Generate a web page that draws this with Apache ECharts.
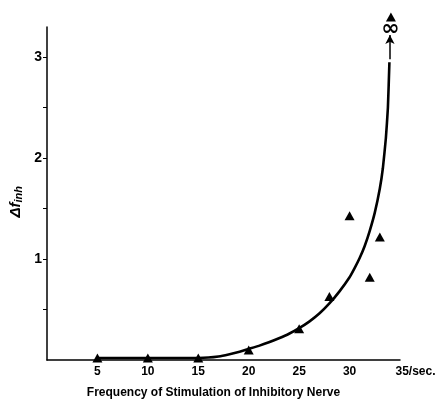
<!DOCTYPE html>
<html>
<head>
<meta charset="utf-8">
<script src="https://cdn.jsdelivr.net/npm/echarts@6/dist/echarts.min.js"></script>
<style>
html,body{margin:0;padding:0;background:#fff;}
#chart{width:443px;height:404px;}
</style>
</head>
<body>
<div id="chart"></div>
<script>
// Measured responses (triangles): stimulation frequency vs. Δf_inh
const freq = [5, 10, 15, 20, 25, 28, 30, 32, 33, 34.1];
const deltaF = [0.02, 0.02, 0.02, 0.10, 0.31, 0.63, 1.43, 0.82, 1.22, 3.40];

// Hand-fitted curve through the measurements
const curveX = [5, 14, 16, 17, 18, 19, 20, 21, 22, 23, 24, 25, 26, 27, 28, 29, 30, 30.5, 31, 31.5, 32, 32.5, 33, 33.3, 33.6, 33.8, 33.95];
const curveY = [0.02, 0.02, 0.025, 0.035, 0.055, 0.08, 0.11, 0.14, 0.175, 0.215, 0.26, 0.315, 0.38, 0.46, 0.56, 0.68, 0.82, 0.91, 1.01, 1.13, 1.28, 1.46, 1.7, 1.9, 2.2, 2.5, 2.95];

// Axis ticks
const xTicks = [5, 10, 15, 20, 25, 30, 35];
const yTicks = [0.5, 1, 1.5, 2, 2.5, 3];
const yLabels = [1, 2, 3];

const chart = echarts.init(document.getElementById('chart'));
const font = 'Liberation Sans';

chart.setOption({
  animation: false,
  grid: {left: 47, right: 43, top: 27, bottom: 43},
  xAxis: {
    type: 'value', min: 0, max: 35, interval: 5,
    axisLine: {lineStyle: {color: '#000', width: 1.5}},
    axisTick: {show: false},
    splitLine: {show: false},
    axisLabel: {
      color: '#000', fontFamily: font, fontWeight: 'bold', fontSize: 12, margin: 6,
      customValues: xTicks,
      formatter: v => v === 35 ? '{p|}35/sec.' : String(v),
      rich: {p: {width: 31}}
    },
    name: 'Frequency of Stimulation of Inhibitory Nerve',
    nameLocation: 'middle', nameGap: 27,
    nameTextStyle: {color: '#000', fontFamily: font, fontWeight: 'bold', fontSize: 12, padding: [0, 20, 0, 0]}
  },
  yAxis: {
    type: 'value', min: 0, max: 3.3,
    axisLine: {show: true, lineStyle: {color: '#000', width: 1.5}},
    axisTick: {show: true, length: 4, customValues: yTicks, lineStyle: {color: '#000', width: 1}},
    splitLine: {show: false},
    axisLabel: {
      color: '#000', fontFamily: font, fontWeight: 'bold', fontSize: 14, margin: 5,
      customValues: yLabels
    }
  },
  graphic: [{
    type: 'text', left: 8, top: 186, rotation: Math.PI / 2,
    style: {
      text: '{m|Δf}{s|inh}',
      rich: {
        m: {fontFamily: font, fontStyle: 'italic', fontWeight: 'bold', fontSize: 15, fill: '#000'},
        s: {fontFamily: font, fontStyle: 'italic', fontWeight: 'bold', fontSize: 11, fill: '#000', verticalAlign: 'bottom', padding: [7, 0, 0, 0]}
      }
    }
  }],
  series: [{
    type: 'line',
    data: curveX.map((x, i) => [x, curveY[i]]),
    smooth: 0.15,
    showSymbol: false,
    lineStyle: {color: '#000', width: 2.6},
    markLine: {
      silent: true, symbol: ['none', 'arrow'], symbolSize: [7, 9],
      lineStyle: {color: '#000', width: 1.5, type: 'solid'},
      label: {show: false},
      data: [[{coord: [34, 2.98]}, {coord: [34, 3.22]}]]
    },
    markPoint: {
      silent: true, symbol: 'circle', symbolSize: 1,
      itemStyle: {color: 'rgba(0,0,0,0)'},
      label: {show: true, position: 'inside', formatter: '∞', color: '#000', fontFamily: 'DejaVu Sans', fontWeight: 'bold', fontSize: 22},
      data: [{coord: [34.05, 3.28]}]
    },
    z: 2
  }, {
    type: 'scatter',
    data: freq.map((x, i) => [x, deltaF[i]]),
    symbol: 'triangle', symbolSize: [10, 9],
    itemStyle: {color: '#000', opacity: 1},
    clip: false,
    z: 3
  }]
});
</script>
</body>
</html>
